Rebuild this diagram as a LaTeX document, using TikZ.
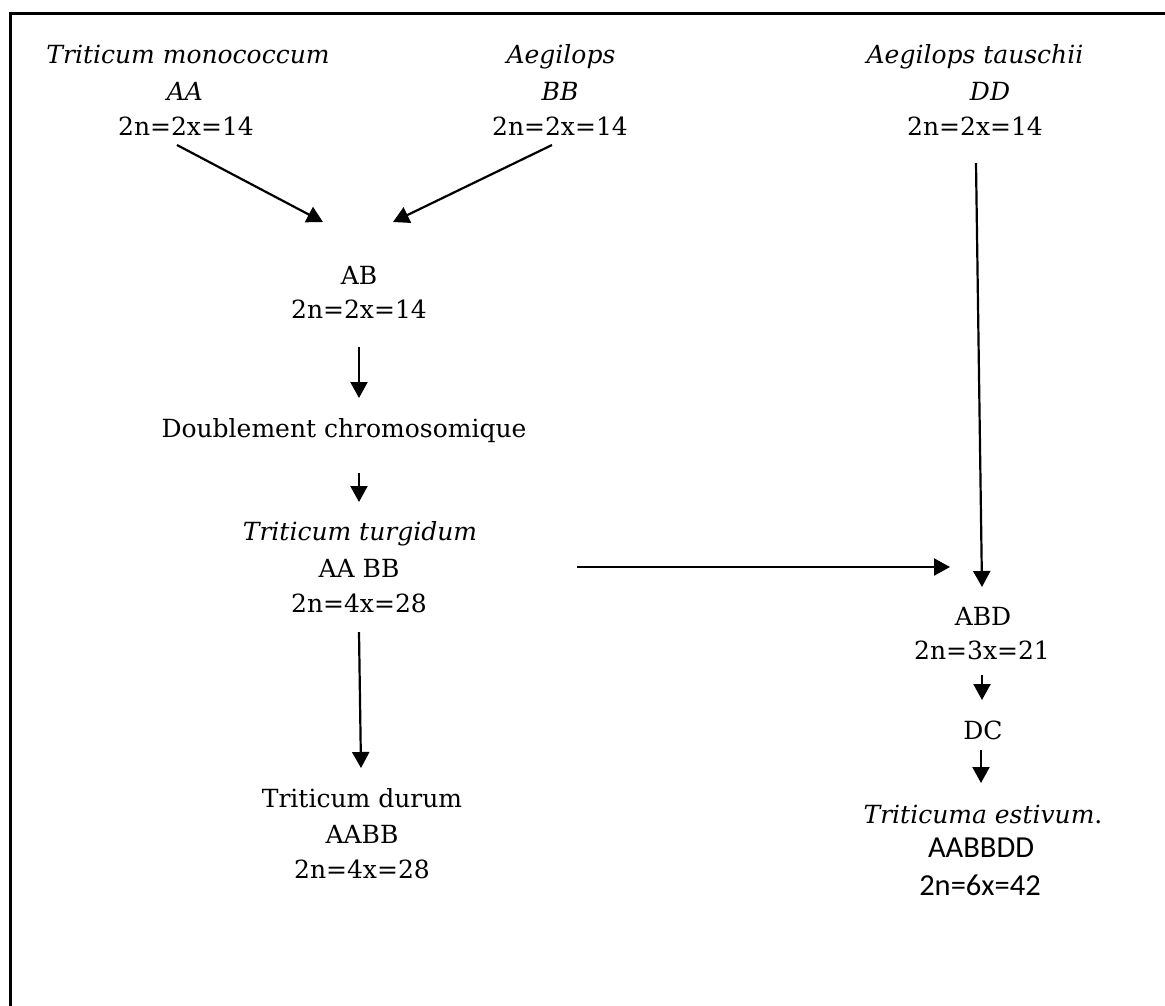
\documentclass[tikz,border=0pt]{standalone}
\usepackage{fontspec}
\setmainfont{DejaVu Serif}
\newfontfamily\calib{Carlito}
\usetikzlibrary{arrows.meta}
\tikzset{
  lbl/.style={anchor=base, inner sep=0pt, font=\fontsize{25}{30}\selectfont},
  ilbl/.style={lbl, font=\fontsize{25}{30}\selectfont\itshape},
  slbl/.style={anchor=base, inner sep=0pt, font=\fontsize{30.5}{34}\selectfont\calib},
  arr/.style={line width=2.2pt, -{Triangle[length=16pt,width=17pt]}},
  frame/.style={line width=3pt}
}
\begin{document}
\begin{tikzpicture}[x=1pt,y=-1pt]
\useasboundingbox (0,0) rectangle (1165,1005);
\draw[frame] (10,1010) -- (10,13) -- (1170,13);

% top left
\node[ilbl] (mono1) at (188,63) {Triticum monococcum};
\node[ilbl] (mono2) at (185,100) {AA};
\node[lbl]  (mono3) at (186,135) {2n=2x=14};
% top middle
\node[ilbl] (aeg1) at (561,63) {Aegilops};
\node[ilbl] (aeg2) at (560,100) {BB};
\node[lbl]  (aeg3) at (560,135) {2n=2x=14};
% top right
\node[ilbl] (tau1) at (975,63) {Aegilops tauschii};
\node[ilbl] (tau2) at (990,100) {DD};
\node[lbl]  (tau3) at (975,135) {2n=2x=14};
% AB
\node[lbl] (ab1) at (359,284) {AB};
\node[lbl] (ab2) at (359,318) {2n=2x=14};
% doublement
\node[lbl] (dbl) at (344,437) {Doublement chromosomique};
% turgidum
\node[ilbl] (turg1) at (360,540) {Triticum turgidum};
\node[lbl]  (turg2) at (359,577) {AA BB};
\node[lbl]  (turg3) at (359,612) {2n=4x=28};
% durum
\node[lbl] (dur1) at (362,807) {Triticum durum};
\node[lbl] (dur2) at (362,843) {AABB};
\node[lbl] (dur3) at (362,878) {2n=4x=28};
% ABD
\node[lbl] (abd1) at (983,625) {ABD};
\node[lbl] (abd2) at (982,659) {2n=3x=21};
\node[lbl] (dc)   at (983,739) {DC};
% estivum
\node[lbl]  (est1) at (983,823) {\textit{Triticuma estivum}.};
\node[slbl] (est2) at (981,857) {AABBDD};
\node[slbl] (est3) at (980,895) {2n=6x=42};

% connectors
\draw[arr] ([shift={(-9,10)}]mono3.base) -- ([shift={(-36,-62)}]ab1.base);
\draw[arr] ([shift={(-8,10)}]aeg3.base) -- ([shift={(34,-62)}]ab1.base);
\draw[arr] ([shift={(1,28)}]tau3.base) -- ([shift={(-1,-38)}]abd1.base);
\draw[arr] ([shift={(0,29)}]ab2.base) -- ([shift={(15,-39)}]dbl.base);
\draw[arr] ([shift={(15,36)}]dbl.base) -- ([shift={(-1,-38)}]turg1.base);
\draw[arr] ([shift={(218,-45)}]turg3.base) -- ([shift={(-33,-58)}]abd1.base);
\draw[arr] ([shift={(0,20)}]turg3.base) -- ([shift={(-1,-39)}]dur1.base);
\draw[arr] ([shift={(0,16)}]abd2.base) -- ([shift={(-1,-39)}]dc.base);
\draw[arr] ([shift={(-2,11)}]dc.base) -- ([shift={(-2,-40)}]est1.base);
\end{tikzpicture}
\end{document}
